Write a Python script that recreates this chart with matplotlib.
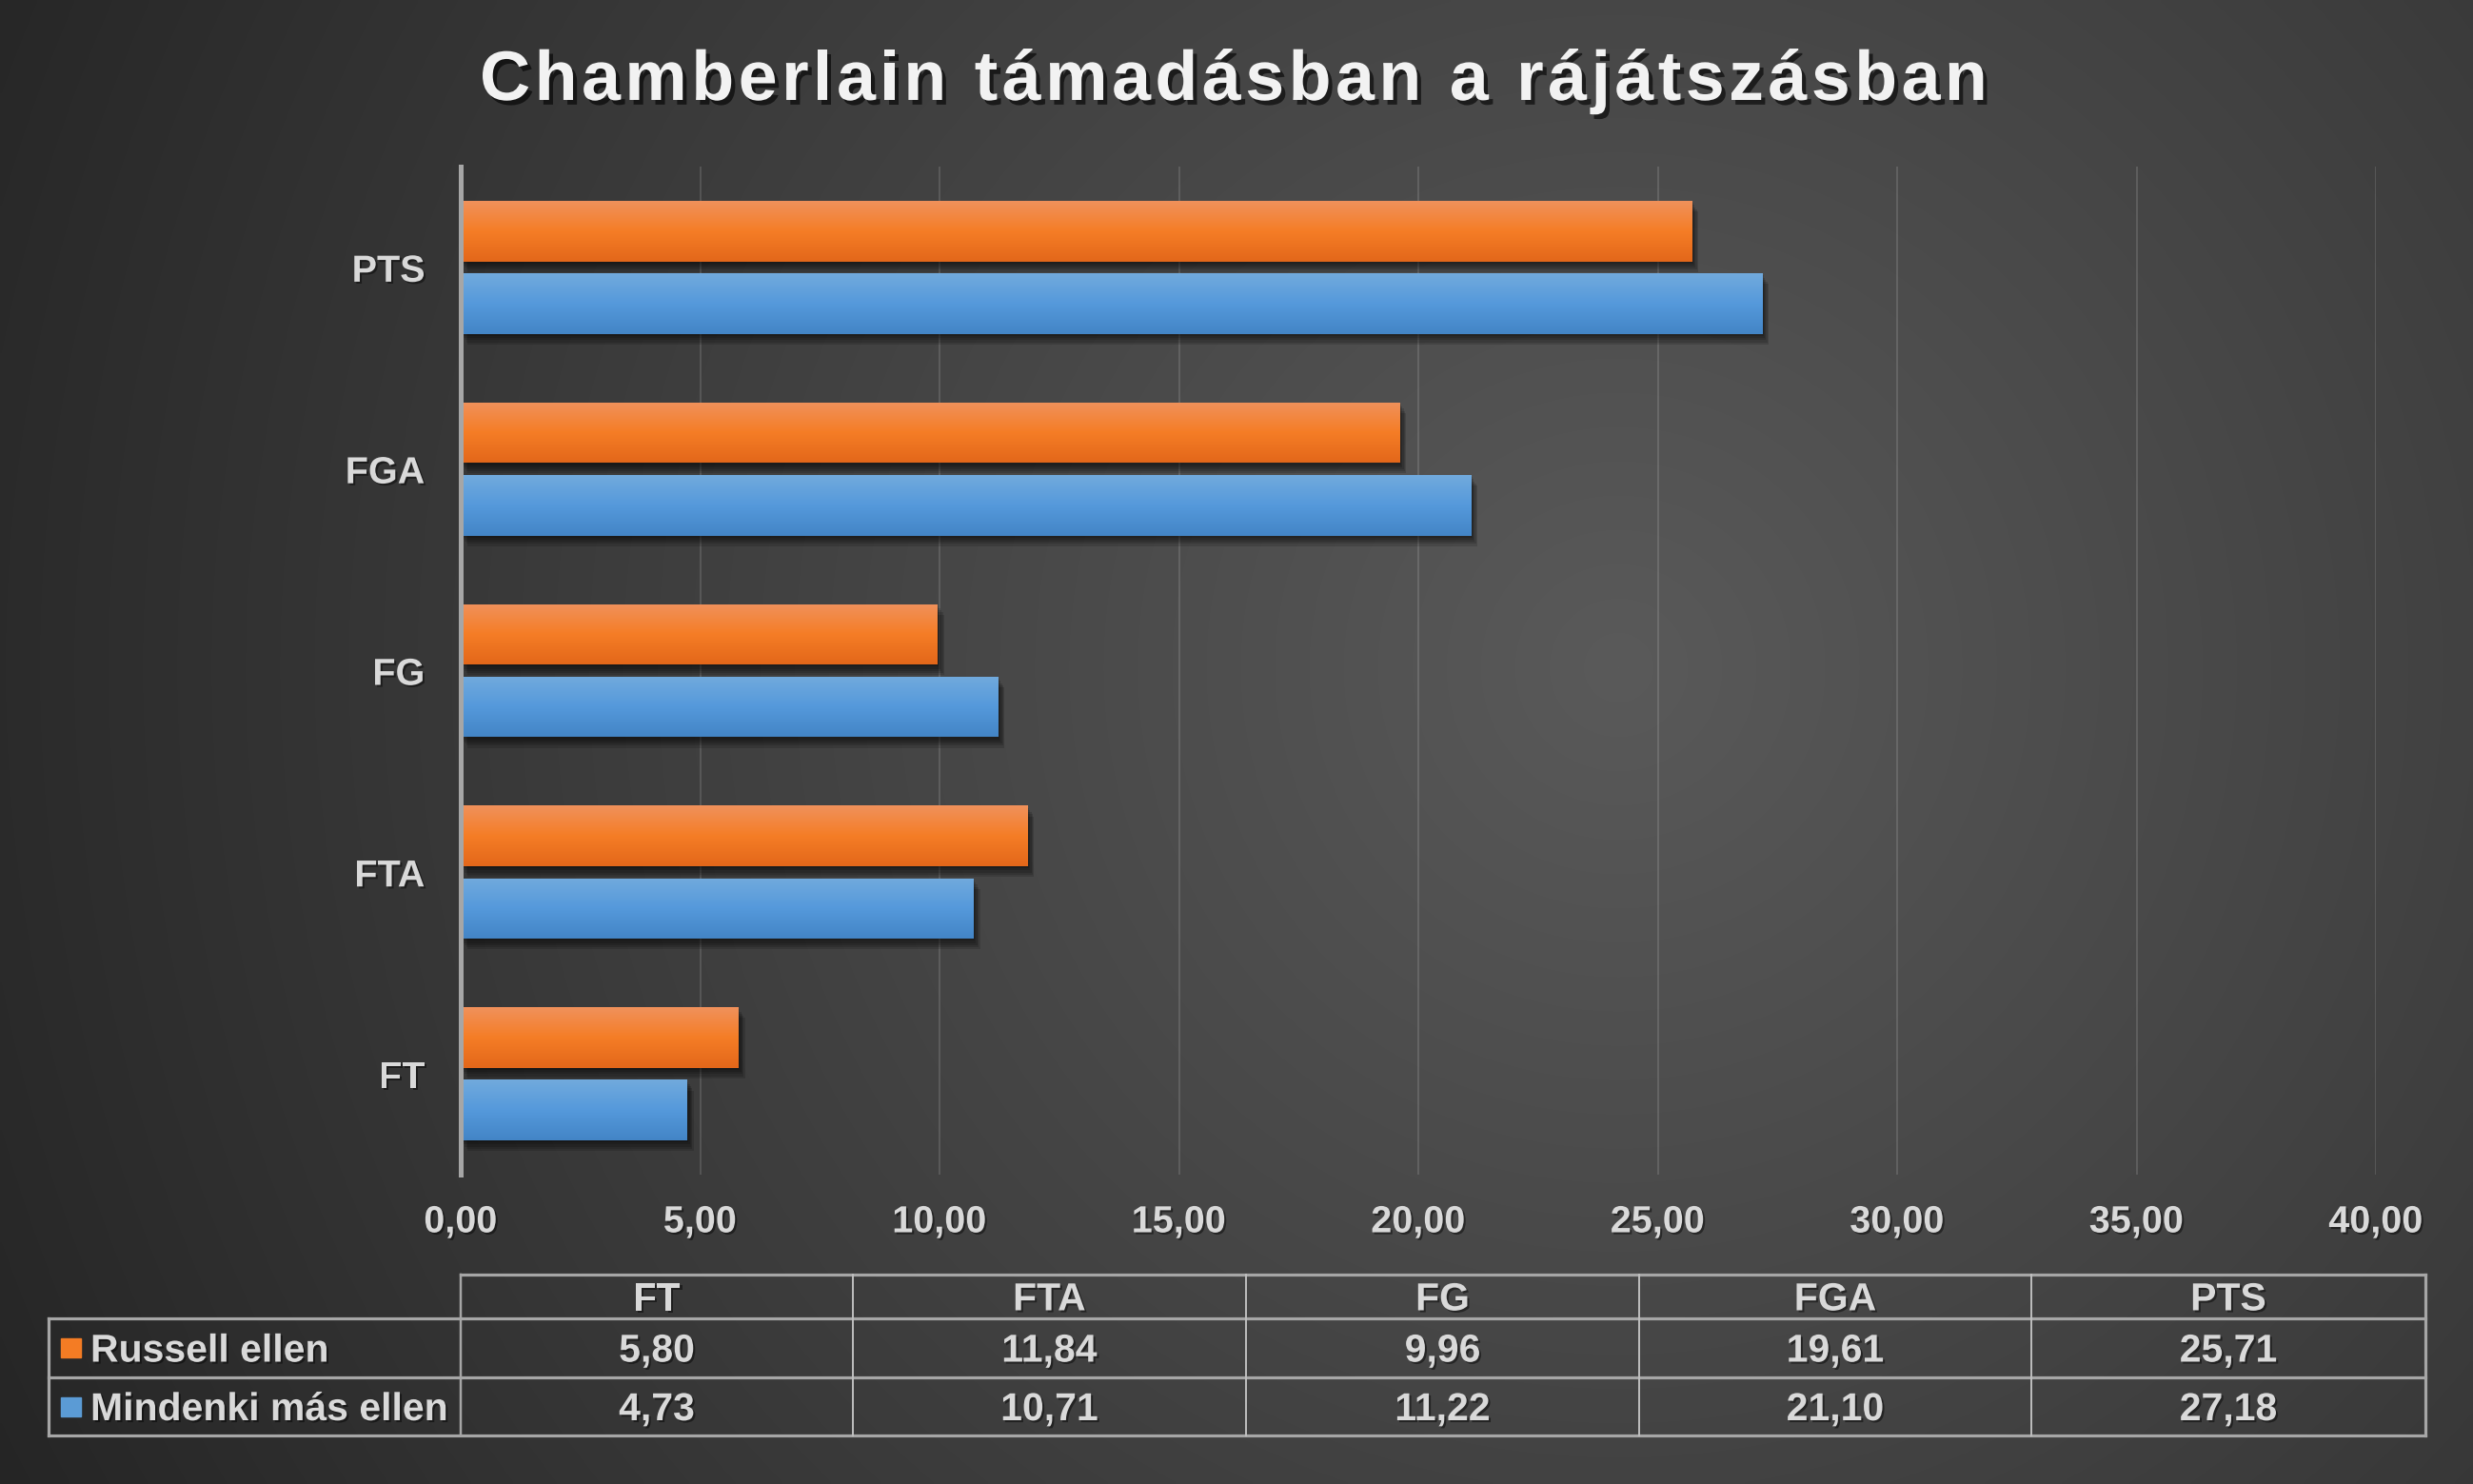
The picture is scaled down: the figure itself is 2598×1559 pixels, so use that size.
import numpy as np

import matplotlib
matplotlib.use('agg')
import matplotlib.pyplot as plt
import matplotlib.patheffects as pe
from matplotlib.colors import LinearSegmentedColormap
from matplotlib.patches import Rectangle
from matplotlib.ticker import FuncFormatter

# Data
categories = ["FT", "FTA", "FG", "FGA", "PTS"]
russell = [5.80, 11.84, 9.96, 19.61, 25.71]
others = [4.73, 10.71, 11.22, 21.10, 27.18]
series_names = ["Russell ellen", "Mindenki más ellen"]
title = "Chamberlain támadásban a rájátszásban"

W, H, DPI = 2598, 1559, 100
TXT = '#d9d9d9'
GRID = '#a6a6a6'
ORANGE = '#f47c24'
BLUE = '#5b9bd5'
cmap_o = LinearSegmentedColormap.from_list('o', ['#e3671a', '#f57d26', '#f0915b'])
cmap_b = LinearSegmentedColormap.from_list('b', ['#4385c6', '#5599db', '#71aadd'])

plt.rcParams['font.family'] = ['Liberation Sans', 'DejaVu Sans']
plt.rcParams['font.weight'] = 'bold'

shadow = [pe.withSimplePatchShadow(offset=(1.5, -1.5), shadow_rgbFace='black',
                                   alpha=0.45)]
# soft bar shadow: a few stacked translucent layers
bar_shadow = [pe.SimplePatchShadow(offset=(o, -o * 1.6), shadow_rgbFace='black',
                                   alpha=0.14) for o in (1, 2, 3, 4, 5)]
bar_shadow.append(pe.Normal())

fig = plt.figure(figsize=(W / DPI, H / DPI), dpi=DPI)

# Background radial gradient
bg = fig.add_axes([0, 0, 1, 1], zorder=-10)
yy, xx = np.mgrid[0:H:4, 0:W:4]
d = np.clip(np.hypot(xx - 1700, yy - 700) / 1950, 0, 1)
shade = 0.353 - (0.353 - 0.141) * d
bg.imshow(np.dstack([shade] * 3), extent=[0, W, H, 0], aspect='auto',
          interpolation='bilinear')
bg.set_xlim(0, W)
bg.set_ylim(H, 0)
bg.axis('off')

# Bar chart
ax = fig.add_axes([484 / W, 1 - 1234 / H, (2496 - 484) / W, (1234 - 175) / H])
ax.patch.set_alpha(0)
y = np.arange(len(categories))
bars_o = ax.barh(y + 0.18, russell, height=0.3, color=ORANGE, zorder=3)
bars_b = ax.barh(y - 0.18, others, height=0.3, color=BLUE, zorder=3)

grad = np.linspace(0, 1, 100).reshape(-1, 1)
for bars, cm in ((bars_o, cmap_o), (bars_b, cmap_b)):
    for bar in bars:
        bar.set_path_effects(bar_shadow)
        x0, y0 = bar.get_xy()
        img = ax.imshow(grad, cmap=cm, origin='lower', aspect='auto',
                        extent=[x0, x0 + bar.get_width(), y0, y0 + bar.get_height()],
                        zorder=3.5, interpolation='bilinear')
        img.set_clip_path(bar)

ax.set_xlim(0, 40)
ax.set_ylim(-0.5, 4.5)
ax.set_yticks(y, categories)
ax.set_xticks(np.arange(0, 41, 5))
ax.xaxis.set_major_formatter(FuncFormatter(lambda v, p: f"{v:.2f}".replace('.', ',')))
ax.tick_params(length=0, labelsize=28.5, labelcolor=TXT)
ax.tick_params(axis='y', pad=27)
ax.tick_params(axis='x', pad=22)
for lab in ax.get_xticklabels() + ax.get_yticklabels():
    lab.set_path_effects(shadow)
ax.grid(axis='x', color='white', alpha=0.13, lw=1.5, zorder=1)
ax.set_axisbelow(True)
for s in ['top', 'right', 'bottom']:
    ax.spines[s].set_visible(False)
ax.spines['left'].set_color(GRID)
ax.spines['left'].set_linewidth(3.6)
ax.spines['left'].set_zorder(4)

# Overlay in pixel coordinates: title and data table
ov = fig.add_axes([0, 0, 1, 1], zorder=5)
ov.set_xlim(0, W)
ov.set_ylim(H, 0)
ov.axis('off')

# Title with letter spacing
r = fig.canvas.get_renderer()
tsize = 53


def text_w(s):
    t = ov.text(0, 0, s, fontsize=tsize)
    w = t.get_window_extent(renderer=r).width
    t.remove()
    return w


ref_w = text_w("H")
full_w = text_w(title)
spacing = (1584 - full_w) / (len(title) - 1)
x_start = 1296 - 1584 / 2
for i, ch in enumerate(title):
    if ch == ' ':
        continue
    xpos = x_start + (text_w(title[:i] + "H") - ref_w if i else 0) + i * spacing
    ov.text(xpos, 105, ch, fontsize=tsize, color='#f2f2f2', ha='left',
            va='baseline',
            path_effects=[pe.withSimplePatchShadow(offset=(3, -3.5),
                                                   shadow_rgbFace='black',
                                                   alpha=0.6)])

# Table
col_x = [484, 896, 1309, 1722, 2134, 2548]
row_y = [1339, 1385, 1447, 1508]
left_x = 51
lw_thick, lw_thin = 2.3, 1.4
tfs = 29.5

ov.plot([col_x[0], col_x[-1]], [row_y[0]] * 2, color=GRID, lw=lw_thick)
for ry in row_y[1:]:
    ov.plot([left_x, col_x[-1]], [ry] * 2, color=GRID, lw=lw_thick)
ov.plot([left_x] * 2, [row_y[1], row_y[-1]], color=GRID, lw=lw_thick)
ov.plot([col_x[0]] * 2, [row_y[0], row_y[-1]], color=GRID, lw=lw_thin + 0.4)
ov.plot([col_x[-1]] * 2, [row_y[0], row_y[-1]], color=GRID, lw=lw_thick)
for cx in col_x[1:-1]:
    ov.plot([cx] * 2, [row_y[0], row_y[-1]], color='#bfbfbf', lw=lw_thin)

cap = 14.5
centers = [(col_x[i] + col_x[i + 1]) / 2 for i in range(len(categories))]
hy = (row_y[0] + row_y[1]) / 2
for cx, cat in zip(centers, categories):
    ov.text(cx, hy + cap, cat, fontsize=tfs, color=TXT, ha='center',
            va='baseline', path_effects=shadow)

for k, (name, vals, col) in enumerate(zip(series_names, [russell, others],
                                           [ORANGE, BLUE])):
    ry = (row_y[k + 1] + row_y[k + 2]) / 2
    ov.add_patch(Rectangle((64, ry - 10), 21, 20, color=col))
    ov.text(95, ry + cap, name, fontsize=tfs, color=TXT, ha='left',
            va='baseline', path_effects=shadow)
    for cx, v in zip(centers, vals):
        ov.text(cx, ry + cap, f"{v:.2f}".replace('.', ','), fontsize=tfs,
                color=TXT, ha='center', va='baseline', path_effects=shadow)

fig.savefig('out.png', dpi=DPI)
plt.close(fig)
